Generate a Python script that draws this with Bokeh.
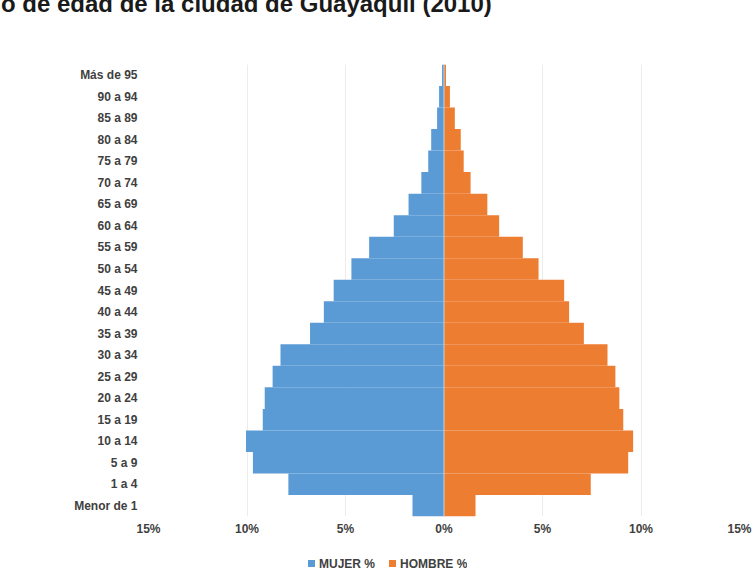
from bokeh.plotting import figure
from bokeh.layouts import column
from bokeh.models import (FactorRange, Range1d, FixedTicker, CustomJSTickFormatter,
                          Span, Div)
from bokeh.embed import file_html
from bokeh.resources import INLINE

# ---- data (percent of population) ----
grupos = ["Menor de 1", "1 a 4", "5 a 9", "10 a 14", "15 a 19", "20 a 24", "25 a 29",
          "30 a 34", "35 a 39", "40 a 44", "45 a 49", "50 a 54", "55 a 59", "60 a 64",
          "65 a 69", "70 a 74", "75 a 79", "80 a 84", "85 a 89", "90 a 94", "Más de 95"]
mujer = [1.6, 7.9, 9.7, 10.05, 9.2, 9.1, 8.7, 8.3, 6.8, 6.1, 5.6, 4.7, 3.8, 2.55,
         1.8, 1.15, 0.8, 0.65, 0.35, 0.25, 0.1]
hombre = [1.6, 7.45, 9.35, 9.6, 9.1, 8.9, 8.7, 8.3, 7.1, 6.35, 6.1, 4.8, 4.0, 2.8,
          2.2, 1.35, 1.0, 0.85, 0.55, 0.3, 0.1]
ticks = [-15, -10, -5, 0, 5, 10, 15]
serie_labels = ["MUJER %", "HOMBRE %"]
titulo = "o de edad de la ciudad de Guayaquil (2010)"

BLUE = "#5B9BD5"
ORANGE = "#ED7D31"
FONT = "Liberation Sans"
W = 755

# ---- title strip (top of the title is cut, as in the reference) ----
title_div = Div(
    text=(f"<div style=\"height:18px;overflow:hidden\">"
          f"<div style=\"font-family:'{FONT}';font-weight:bold;font-size:24px;"
          f"line-height:28px;margin-top:-10px;margin-left:1px;color:#1a1a1a;"
          f"white-space:nowrap\">{titulo}</div></div>"),
    width=W, height=18, margin=0, styles={"overflow": "hidden"})

# ---- main pyramid ----
p = figure(width=W, height=530, output_backend="svg", toolbar_location=None,
           y_range=FactorRange(*grupos), x_range=Range1d(-15, 15),
           min_border_left=148, min_border_right=16, min_border_top=46,
           min_border_bottom=32, margin=0)
p.outline_line_color = None
p.background_fill_color = "white"
p.border_fill_color = "white"

neg_mujer = [-v for v in mujer]
p.hbar(y=grupos, left=neg_mujer, right=0, height=1.0, fill_color=BLUE, line_color=None)
p.hbar(y=grupos, left=0, right=hombre, height=1.0, fill_color=ORANGE, line_color=None)
p.add_layout(Span(location=0, dimension="height", line_color="#d0d0d0", line_width=1))

p.xaxis.ticker = FixedTicker(ticks=ticks)
p.xaxis.formatter = CustomJSTickFormatter(code="return Math.abs(tick) + '%';")
for ax in (p.xaxis[0], p.yaxis[0]):
    ax.axis_line_color = None
    ax.major_tick_line_color = None
    ax.minor_tick_line_color = None
    ax.major_tick_out = 0
    ax.major_tick_in = 0
    ax.major_label_text_font = FONT
    ax.major_label_text_font_style = "bold"
    ax.major_label_text_font_size = "12px"
    ax.major_label_text_color = "#3f3f3f"
p.xaxis.major_label_standoff = 5
p.yaxis.major_label_standoff = 11
p.ygrid.grid_line_color = None
p.xgrid.grid_line_color = "#ececec"

# ---- legend strip ----
def item(color, label, ml):
    return (f"<span style=\"display:inline-block;width:7px;height:7px;background:{color};"
            f"margin-left:{ml}px;margin-right:4px;vertical-align:middle\"></span>"
            f"<span style=\"vertical-align:middle\">{label}</span>")

legend_div = Div(
    text=(f"<div style=\"height:27px;overflow:hidden\">"
          f"<div style=\"font-family:'{FONT}';font-weight:bold;font-size:12px;"
          f"line-height:14px;color:#3f3f3f;padding-top:8px;white-space:nowrap\">"
          f"{item(BLUE, serie_labels[0], 308)}{item(ORANGE, serie_labels[1], 14)}"
          f"</div></div>"),
    width=W, height=27, margin=0, styles={"overflow": "hidden"})

layout = column(title_div, p, legend_div, spacing=0)
open("out.html", "w").write(file_html(layout, INLINE))
